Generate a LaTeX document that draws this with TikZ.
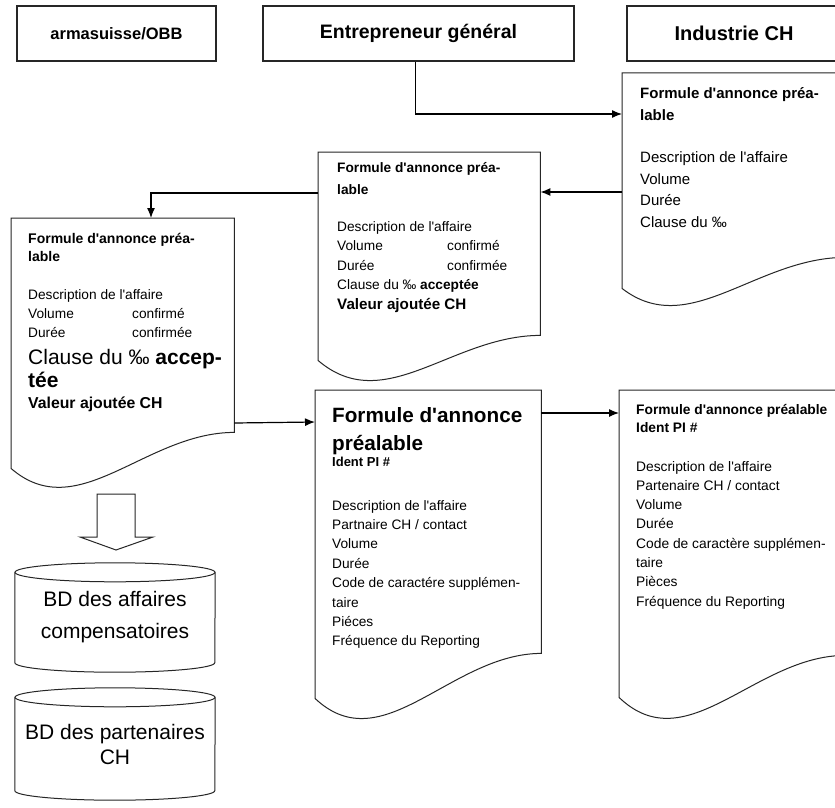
\documentclass[tikz,border=0pt]{standalone}
\usepackage{fontspec}
\setmainfont{Liberation Sans}[Ligatures=TeXOff]
\usetikzlibrary{shapes,arrows,arrows.meta,calc}
\tikzstyle{arrow} = [draw, line width=1.2pt, -{Latex[length=10pt,width=8pt]}]
\tikzstyle{topbox} = [rectangle, draw=black!85, line width=1.4pt, minimum height=55pt]
\tikzstyle{docbox} = [rectangle, anchor=north west, inner sep=0pt]
\tikzstyle{docline} = [draw=black!85, line width=1pt]
\tikzstyle{txt} = [anchor=base west, inner sep=0pt, align=left]

\newcommand{\fs}[2]{\fontsize{#1}{#2}\selectfont}

% form with wavy bottom: node, rise of right end, depth of wave
\newcommand{\formdoc}[3]{%
  \draw[docline] (#1.south west) -- (#1.north west) -- (#1.north east) -- ($(#1.south east)+(0,#2)$)
    .. controls ($(#1.south west)!0.6!(#1.south east)+(0,#2)$) and ($(#1.south west)!0.3!(#1.south east)+(0,-#3)$) .. (#1.south west);
}
% data base cylinder round a node
\newcommand{\dbcyl}[1]{%
  \draw[docline] ($(#1.north west)+(0,-9.5)$) -- ($(#1.south west)+(0,9.5)$)
    arc[start angle=180, end angle=360, x radius=100pt, y radius=9.5pt]
    -- ($(#1.north east)+(0,-9.5)$);
  \draw[docline] ($(#1.north)+(0,-9.5)$) ellipse [x radius=100pt, y radius=9.5pt];
}

\begin{document}
\begin{tikzpicture}[x=1pt,y=1pt]
    \useasboundingbox (0,0) rectangle (835,-808);
    \fill[white] (0,0) rectangle (835,-808);

    \node (OBB) [topbox, minimum width=199pt, font=\fs{16.5}{20}\bfseries] at (116.5,-33.5) {armasuisse/OBB};
    \node (EG) [topbox, minimum width=311pt, font=\fs{19.5}{24}\bfseries] at (418.5,-33.5) {Entrepreneur général};
    \node (ICH) [topbox, minimum width=214pt, font=\fs{20}{24}\bfseries] at (734,-33.5) {Industrie CH};

    \node (F1) [docbox, minimum width=223pt, minimum height=215pt] at (622,-73) {};
    \node (F2) [docbox, minimum width=222pt, minimum height=208pt] at (318,-152) {};
    \node (F3) [docbox, minimum width=223pt, minimum height=250pt] at (11,-218) {};
    \node (F4) [docbox, minimum width=226pt, minimum height=308pt] at (315,-390) {};
    \node (F5) [docbox, minimum width=226pt, minimum height=307pt] at (619,-390) {};

    \formdoc{F1}{31}{52}
    \formdoc{F2}{25}{57}
    \formdoc{F3}{36}{58}
    \formdoc{F4}{45}{64}
    \formdoc{F5}{42}{65}

    % text anchored at the base of its last line
    \node (F1h) [txt, font=\fs{15}{22}\bfseries] at (640,-120.5) {Formule d'annonce préa-\\lable};
    \node (F1b) [txt, font=\fs{15}{21.5}] at (640,-227) {Description de l'affaire\\Volume\\Durée\\Clause du ‰};

    \node (F2h) [txt, font=\fs{13.7}{22}\bfseries] at (337,-194) {Formule d'annonce préa-\\lable};
    \node (F2b) [txt, font=\fs{13.7}{19.6}] at (337,-309.4) {Description de l'affaire\\\makebox[110pt][l]{Volume}confirmé\\\makebox[110pt][l]{Durée}confirmée\\Clause du ‰ \textbf{acceptée}\\{\fs{15.2}{19.6}\bfseries Valeur ajoutée CH}};

    \node (F3h) [txt, font=\fs{14}{18}\bfseries] at (28,-261) {Formule d'annonce préa-\\lable};
    \node (F3b) [txt, font=\fs{13.7}{19}] at (28,-337) {Description de l'affaire\\\makebox[104pt][l]{Volume}confirmé\\\makebox[104pt][l]{Durée}confirmée};
    \node (F3c) [txt, font=\fs{21}{23}] at (28,-387) {Clause du ‰ \textbf{accep-}\\\textbf{tée}};
    \node (F3v) [txt, font=\fs{15.8}{19}\bfseries] at (28,-408) {Valeur ajoutée CH};

    \node (F4h) [txt, font=\fs{20.7}{28}\bfseries] at (332,-450) {Formule d'annonce\\préalable};
    \node (F4i) [txt, font=\fs{13}{19}\bfseries] at (332,-466) {Ident PI \#};
    \node (F4b) [txt, font=\fs{13.7}{19.4}] at (332,-645.8) {Description de l'affaire\\Partnaire CH / contact\\Volume\\Durée\\Code de caractére supplémen-\\taire\\Piéces\\Fréquence du Reporting};

    \node (F5h) [txt, font=\fs{13.8}{18.3}\bfseries] at (636,-432.3) {Formule d'annonce préalable\\Ident PI \#};
    \node (F5b) [txt, font=\fs{13.8}{19.3}] at (636,-606.1) {Description de l'affaire\\Partenaire CH / contact\\Volume\\Durée\\Code de caractère supplémen-\\taire\\Pièces\\Fréquence du Reporting};

    \draw[arrow] ($(EG.south)+(-3,0)$) |- ($(F1.north west)+(0,-41)$);
    \draw[arrow] ($(F1.north west)+(0,-119)$) -- ($(F2.north east)+(0,-40)$);
    \draw[arrow] ($(F2.north west)+(0,-41)$) -| ($(F3.north west)+(140,0)$);
    \draw[arrow] ($(F3.north east)+(0,-205)$) -- ($(F4.north west)+(0,-32)$);
    \draw[arrow] ($(F4.north east)+(0,-23)$) -- ($(F5.north west)+(0,-23)$);

    \draw[docline] (97,-494) -- (135,-494) -- (135,-537) -- (153,-537) -- (116,-550) -- (80,-537) -- (97,-537) -- cycle;

    \node (BDA) [rectangle, minimum width=200pt, minimum height=109pt, align=center, font=\fs{21}{32}] at (115,-617.5) {BD des affaires\\compensatoires};
    \node (BDP) [rectangle, minimum width=200pt, minimum height=112pt, align=center, font=\fs{21}{25}] at (115,-744) {BD des partenaires\\CH};
    \dbcyl{BDA}
    \dbcyl{BDP}

\end{tikzpicture}
\end{document}
